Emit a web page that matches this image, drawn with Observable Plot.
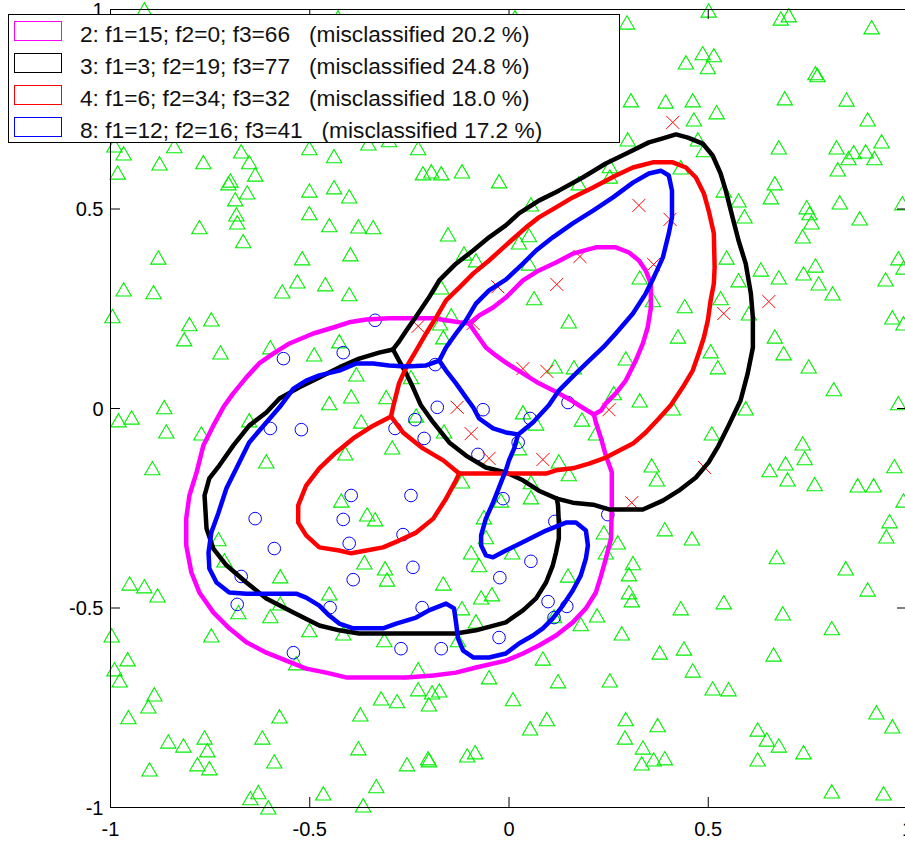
<!DOCTYPE html>
<html><head><meta charset="utf-8">
<script src="https://cdn.jsdelivr.net/npm/d3@7"></script>
<script src="https://cdn.jsdelivr.net/npm/@observablehq/plot@0.6"></script>
<style>
html,body{margin:0;padding:0;background:#fff;}
#wrap{position:relative;width:905px;height:845px;overflow:hidden;}
#legend{position:absolute;left:0;top:0;}
</style></head><body><div id="wrap"></div>
<script>
// ---- tick values ----
const xTicks = [-1, -0.5, 0, 0.5, 1];
const yTicks = [-1, -0.5, 0, 0.5, 1];

// ---- legend ----
const legendLabels = ["2: f1=15; f2=0; f3=66", "3: f1=3; f2=19; f3=77", "4: f1=6; f2=34; f3=32", "8: f1=12; f2=16; f3=41"];
const legendMiscl = ["20.2", "24.8", "18.0", "17.2"];
const legendColors = ["#ff00ff", "#000000", "#ff0000", "#0000ff"];

// ---- class 1: triangles ----
const triangles = [
[-0.990,0.659],[-0.967,0.639],[-0.840,0.657],[-0.877,0.614],[-0.767,0.617],[-0.672,0.644],[-0.652,0.617],[-0.637,0.586],[-0.704,0.564],[-0.699,0.571],[-0.657,0.541],[-0.687,0.524],[-0.684,0.486],[-0.682,0.466],[-0.667,0.419],[-0.982,0.591],[-0.777,0.454],[-0.880,0.378],[-0.501,0.652],[-0.439,0.632],[-0.353,0.664],[-0.301,0.672],[-0.228,0.652],[-0.501,0.546],[-0.439,0.554],[-0.401,0.531],[-0.501,0.489],[-0.451,0.459],[-0.378,0.456],[-0.341,0.454],[-0.216,0.589],[-0.195,0.594],[-0.170,0.589],[-0.118,0.594],[-0.025,0.569],[-0.153,0.436],[-0.519,0.376],[-0.398,0.386],[-0.113,0.388],[-0.083,0.371],[-0.531,0.318],[-0.461,0.311],[-0.569,0.293],[-0.401,0.286],[-0.967,0.298],[-0.892,0.291],[-0.995,0.231],[-0.802,0.211],[-0.747,0.223],[-0.815,0.173],[-0.724,0.140],[-0.599,0.153],[-0.489,0.135],[-0.426,0.168],[-0.170,0.303],[-0.145,0.233],[-0.173,0.213],[-0.165,0.178],[-0.383,0.085],[-0.396,0.030],[-0.451,0.013],[-0.308,0.028],[-0.246,0.078],[-0.865,0.003],
[0.501,0.997],[0.682,0.977],[0.702,0.985],[0.910,0.955],[0.296,0.967],[0.444,0.867],[0.486,0.890],[0.514,0.885],[0.499,0.855],[0.769,0.840],[0.774,0.835],[0.306,0.772],[0.393,0.769],[0.461,0.772],[0.521,0.742],[0.464,0.724],[0.692,0.777],[0.847,0.774],[0.900,0.724],[0.298,0.674],[0.474,0.674],[0.489,0.647],[0.677,0.654],[0.822,0.654],[0.865,0.642],[0.895,0.644],[0.935,0.669],[0.852,0.627],[0.917,0.627],[0.825,0.599],[0.253,0.607],[0.253,0.581],[0.431,0.604],[0.175,0.564],[0.667,0.564],[0.657,0.529],[0.539,0.546],[0.576,0.521],[0.591,0.481],[0.747,0.504],[0.754,0.489],[0.759,0.466],[0.830,0.516],[0.880,0.476],[0.737,0.431],[0.987,0.514],[0.055,0.511],[0.050,0.434],[0.025,0.416],[0.050,0.363],[0.546,0.378],[0.632,0.348],[0.576,0.321],[0.677,0.328],[0.739,0.338],[0.769,0.358],[0.777,0.313],[0.812,0.288],[0.977,0.376],[0.945,0.323],[0.990,0.353],[0.063,0.276],[0.150,0.218],[0.328,0.328],[0.361,0.271],[0.441,0.256],[0.531,0.276],[0.602,0.238],[0.424,0.180],[0.667,0.180],[0.689,0.138],[0.506,0.143],[0.524,0.103],[0.293,0.125],[0.115,0.105],[0.163,0.103],[0.752,0.105],[0.962,0.228],[0.990,0.213],[0.815,0.048],[0.263,0.038],[0.328,0.020],[0.411,0.000],[0.594,0.000],[0.977,0.013],
[-0.980,-0.030],[-0.947,-0.023],[-0.860,-0.058],[-0.772,-0.063],[-0.652,-0.030],[-0.371,-0.033],[-0.895,-0.150],[-0.609,-0.133],[-0.411,-0.113],[-0.293,-0.098],[-0.163,-0.058],[-0.118,-0.183],[-0.421,-0.231],[-0.356,-0.266],[-0.336,-0.278],[-0.063,-0.273],[-0.020,-0.231],[-0.729,-0.328],[-0.714,-0.381],[-0.058,-0.323],[-0.095,-0.361],[-0.075,-0.393],[-0.363,-0.386],[-0.311,-0.401],[-0.306,-0.429],[-0.574,-0.421],[-0.165,-0.439],[-0.952,-0.439],[-0.915,-0.446],[-0.882,-0.469],[-0.451,-0.464],[-0.574,-0.489],[-0.679,-0.511],[-0.599,-0.521],[-0.501,-0.556],[-0.416,-0.564],[-0.313,-0.581],[-0.118,-0.501],[-0.083,-0.534],[-0.070,-0.474],[-0.043,-0.466],[-0.128,-0.581],[-0.747,-0.569],[-0.997,-0.569],[-0.957,-0.629],[-0.990,-0.654],[-0.977,-0.682],[-0.534,-0.639],[-0.228,-0.654],[-0.050,-0.674],[-0.890,-0.717],[-0.905,-0.747],[-0.955,-0.774],[-0.576,-0.772],[-0.373,-0.767],[-0.321,-0.727],[-0.281,-0.734],[-0.228,-0.704],[-0.193,-0.712],[-0.175,-0.707],[-0.201,-0.742],[-0.855,-0.835],[-0.817,-0.845],[-0.764,-0.825],[-0.757,-0.857],[-0.619,-0.825],[-0.782,-0.892],[-0.752,-0.902],[-0.902,-0.905],[-0.589,-0.885],[-0.378,-0.852],[-0.256,-0.892],[-0.203,-0.877],[-0.201,-0.882],[-0.105,-0.870],[-0.085,-0.862],[-0.629,-0.962],[-0.649,-0.977],[-0.604,-1.000],[-0.466,-0.965],[-0.333,-0.947],[-0.366,-0.995],[-0.233,-0.018],
[0.035,-0.010],[0.068,-0.038],[0.183,-0.028],[0.025,-0.100],[0.218,-0.063],[0.509,-0.063],[0.737,-0.088],[0.125,-0.133],[0.150,-0.165],[0.055,-0.223],[0.055,-0.185],[0.358,-0.143],[0.371,-0.178],[0.654,-0.155],[0.694,-0.138],[0.742,-0.125],[0.699,-0.178],[0.767,-0.190],[0.875,-0.193],[0.915,-0.193],[0.967,-0.145],[0.990,-0.231],[0.238,-0.311],[0.273,-0.336],[0.243,-0.361],[0.391,-0.303],[0.459,-0.326],[0.311,-0.388],[0.301,-0.416],[0.301,-0.461],[0.308,-0.481],[0.148,-0.419],[0.672,-0.373],[0.845,-0.401],[0.900,-0.454],[0.955,-0.283],[0.947,-0.321],[0.008,-0.361],[0.113,-0.521],[0.180,-0.541],[0.221,-0.519],[0.431,-0.501],[0.539,-0.486],[0.687,-0.514],[0.810,-0.551],[0.283,-0.564],[0.378,-0.612],[0.439,-0.602],[0.664,-0.617],[0.085,-0.627],[0.123,-0.684],[0.253,-0.682],[0.461,-0.657],[0.511,-0.702],[0.551,-0.704],[0.010,-0.729],[0.095,-0.779],[0.053,-0.802],[0.293,-0.779],[0.373,-0.794],[0.291,-0.825],[0.336,-0.850],[0.363,-0.880],[0.391,-0.877],[0.333,-0.890],[0.624,-0.805],[0.647,-0.830],[0.677,-0.845],[0.624,-0.880],[0.739,-0.862],[0.922,-0.762],[0.962,-0.797],[0.810,-0.960],[0.940,-0.965],
[-0.915,1.000],[0.015,0.980],[-0.429,0.980]
];

// ---- class 2: circles ----
const circles = [
[-0.336,0.221],[-0.566,0.125],[-0.416,0.140],[-0.185,0.110],[-0.180,0.003],[-0.065,-0.003],[-0.599,-0.050],[-0.521,-0.053],[-0.286,-0.050],[-0.236,-0.028],[-0.213,-0.075],[-0.078,-0.115],[-0.396,-0.218],[-0.246,-0.218],[-0.416,-0.278],[-0.637,-0.276],[-0.266,-0.316],[-0.401,-0.338],[-0.589,-0.351],[-0.015,-0.226],[-0.241,-0.398],[-0.391,-0.429],[-0.672,-0.421],[-0.023,-0.424],[-0.682,-0.491],[-0.449,-0.499],[-0.218,-0.499],[-0.271,-0.602],[-0.170,-0.602],[-0.541,-0.612],[-0.025,-0.574],[0.148,0.015],[0.053,-0.025],[0.023,-0.085],[0.248,-0.266],[0.115,-0.283],[0.055,-0.383],[0.098,-0.484],[0.145,-0.496],[0.113,-0.524]
];

// ---- class 3: crosses ----
const crosses = [
[-0.228,0.206],[-0.090,0.213],[-0.130,0.003],[-0.028,0.305],[-0.095,-0.063],[-0.050,-0.125],[0.411,0.717],[0.326,0.509],[0.404,0.474],[0.178,0.381],[0.120,0.311],[0.363,0.361],[0.652,0.268],[0.539,0.238],[0.035,0.100],[0.095,0.093],[0.251,-0.003],[0.085,-0.128],[0.491,-0.148],[0.308,-0.236]
];

// ---- boundary: 2 hidden units (magenta) ----
const magentaOuter = [[-0.100,0.213],[-0.125,0.216],[-0.158,0.221],[-0.190,0.226],[-0.301,0.226],[-0.358,0.223],[-0.401,0.216],[-0.441,0.203],[-0.491,0.188],[-0.551,0.163],[-0.591,0.138],[-0.627,0.113],[-0.659,0.078],[-0.692,0.038],[-0.717,0.003],[-0.742,-0.043],[-0.767,-0.093],[-0.784,-0.160],[-0.802,-0.218],[-0.810,-0.276],[-0.810,-0.343],[-0.797,-0.411],[-0.777,-0.461],[-0.742,-0.511],[-0.702,-0.551],[-0.659,-0.586],[-0.609,-0.612],[-0.559,-0.632],[-0.509,-0.652],[-0.459,-0.662],[-0.409,-0.674],[-0.341,-0.674],[-0.258,-0.674],[-0.190,-0.669],[-0.133,-0.662],[-0.083,-0.649],[-0.008,-0.632],[0.035,-0.614],[0.075,-0.594],[0.118,-0.569],[0.160,-0.536],[0.193,-0.501],[0.218,-0.461],[0.231,-0.419],[0.243,-0.376],[0.256,-0.326],[0.258,-0.243],[0.258,-0.160],[0.243,-0.118],[0.231,-0.075],[0.218,-0.035],[0.213,-0.015]];
const magentaInner = [[-0.100,0.213],[-0.075,0.233],[-0.040,0.253],[-0.008,0.278],[0.035,0.321],[0.075,0.346],[0.118,0.366],[0.160,0.388],[0.218,0.404],[0.268,0.404],[0.301,0.391],[0.326,0.371],[0.343,0.346],[0.356,0.313],[0.356,0.253],[0.348,0.203],[0.336,0.163],[0.318,0.120],[0.293,0.070],[0.268,0.038],[0.243,0.013],[0.231,-0.005],[0.213,-0.015]];
const magentaChord = [[-0.100,0.213],[-0.083,0.188],[-0.058,0.153],[-0.033,0.133],[-0.008,0.115],[0.035,0.088],[0.075,0.063],[0.125,0.038],[0.160,0.018],[0.188,0.000],[0.213,-0.015]];

// ---- boundary: 3 hidden units (black) ----
const blackOuter = [[-0.291,0.148],[-0.278,0.165],[-0.258,0.195],[-0.228,0.238],[-0.201,0.278],[-0.175,0.321],[-0.133,0.363],[-0.090,0.396],[-0.050,0.429],[-0.008,0.459],[0.025,0.489],[0.075,0.521],[0.125,0.546],[0.185,0.579],[0.243,0.614],[0.301,0.642],[0.351,0.667],[0.386,0.677],[0.419,0.687],[0.449,0.679],[0.486,0.664],[0.511,0.634],[0.531,0.589],[0.544,0.546],[0.561,0.479],[0.576,0.421],[0.594,0.363],[0.607,0.288],[0.612,0.228],[0.612,0.153],[0.599,0.088],[0.581,0.020],[0.551,-0.043],[0.526,-0.093],[0.501,-0.135],[0.469,-0.173],[0.426,-0.206],[0.386,-0.231],[0.336,-0.253],[0.251,-0.253],[0.211,-0.241],[0.160,-0.236],[0.120,-0.226]];
const blackChord = [[-0.291,0.148],[-0.276,0.120],[-0.258,0.088],[-0.241,0.053],[-0.221,0.008],[-0.190,-0.035],[-0.150,-0.085],[-0.108,-0.118],[-0.058,-0.148],[-0.008,-0.160],[0.035,-0.180],[0.075,-0.206],[0.120,-0.226]];
const blackLower = [[-0.291,0.148],[-0.326,0.140],[-0.376,0.125],[-0.426,0.103],[-0.476,0.078],[-0.526,0.053],[-0.576,0.025],[-0.609,-0.010],[-0.652,-0.043],[-0.692,-0.093],[-0.727,-0.143],[-0.752,-0.175],[-0.764,-0.218],[-0.759,-0.301],[-0.742,-0.351],[-0.709,-0.393],[-0.659,-0.436],[-0.609,-0.476],[-0.541,-0.511],[-0.476,-0.544],[-0.426,-0.556],[-0.376,-0.564],[-0.258,-0.564],[-0.133,-0.564],[-0.083,-0.556],[-0.008,-0.536],[0.035,-0.506],[0.068,-0.476],[0.093,-0.436],[0.110,-0.393],[0.118,-0.361],[0.125,-0.326],[0.125,-0.286],[0.123,-0.243],[0.120,-0.226]];

// ---- boundary: 4 hidden units (red) ----
const redOuter = [[-0.296,-0.020],[-0.291,0.003],[-0.276,0.063],[-0.258,0.103],[-0.233,0.145],[-0.208,0.188],[-0.183,0.228],[-0.158,0.271],[-0.125,0.303],[-0.090,0.338],[-0.050,0.371],[-0.008,0.409],[0.043,0.454],[0.075,0.479],[0.118,0.504],[0.160,0.529],[0.211,0.554],[0.268,0.584],[0.311,0.604],[0.361,0.617],[0.411,0.617],[0.444,0.604],[0.469,0.579],[0.489,0.539],[0.501,0.496],[0.514,0.439],[0.516,0.353],[0.514,0.313],[0.506,0.271],[0.499,0.221],[0.489,0.178],[0.476,0.138],[0.461,0.095],[0.436,0.053],[0.406,0.008],[0.376,-0.025],[0.343,-0.060],[0.311,-0.088],[0.243,-0.123],[0.201,-0.138],[0.160,-0.150],[0.118,-0.155],[0.093,-0.163],[-0.008,-0.163],[-0.125,-0.163]];
const redChord = [[-0.296,-0.020],[-0.266,-0.060],[-0.216,-0.100],[-0.165,-0.130],[-0.125,-0.163]];
const redLower = [[-0.296,-0.020],[-0.341,-0.043],[-0.391,-0.075],[-0.434,-0.110],[-0.476,-0.150],[-0.509,-0.193],[-0.529,-0.243],[-0.529,-0.286],[-0.509,-0.318],[-0.476,-0.348],[-0.426,-0.356],[-0.396,-0.363],[-0.358,-0.356],[-0.316,-0.348],[-0.276,-0.331],[-0.233,-0.311],[-0.190,-0.276],[-0.158,-0.226],[-0.133,-0.180],[-0.125,-0.163]];

// ---- boundary: 8 hidden units (blue) ----
const blueOuter = [[-0.175,0.120],[-0.158,0.153],[-0.133,0.188],[-0.108,0.221],[-0.083,0.263],[-0.050,0.296],[-0.008,0.323],[0.035,0.363],[0.068,0.396],[0.110,0.429],[0.160,0.464],[0.211,0.496],[0.261,0.529],[0.311,0.566],[0.351,0.589],[0.381,0.596],[0.401,0.584],[0.409,0.546],[0.409,0.479],[0.401,0.439],[0.386,0.378],[0.363,0.328],[0.343,0.288],[0.311,0.238],[0.268,0.188],[0.236,0.153],[0.201,0.120],[0.168,0.088],[0.125,0.045],[0.100,0.008],[0.060,-0.035],[0.023,-0.065]];
const blueChord = [[-0.175,0.120],[-0.158,0.095],[-0.133,0.063],[-0.108,0.028],[-0.090,0.003],[-0.075,-0.025],[-0.040,-0.050],[-0.008,-0.060],[0.023,-0.065]];
const blueLower = [[-0.175,0.120],[-0.208,0.108],[-0.258,0.105],[-0.301,0.108],[-0.341,0.113],[-0.383,0.113],[-0.426,0.095],[-0.476,0.083],[-0.509,0.070],[-0.541,0.050],[-0.576,0.003],[-0.609,-0.035],[-0.652,-0.085],[-0.684,-0.150],[-0.709,-0.200],[-0.729,-0.261],[-0.747,-0.311],[-0.754,-0.361],[-0.752,-0.401],[-0.734,-0.436],[-0.702,-0.461],[-0.659,-0.464],[-0.534,-0.464],[-0.509,-0.474],[-0.476,-0.494],[-0.451,-0.519],[-0.426,-0.539],[-0.391,-0.551],[-0.316,-0.551],[-0.283,-0.539],[-0.233,-0.524],[-0.201,-0.506],[-0.158,-0.489],[-0.138,-0.501],[-0.133,-0.536],[-0.128,-0.576],[-0.115,-0.607],[-0.090,-0.624],[-0.050,-0.624],[-0.008,-0.614],[0.025,-0.589],[0.060,-0.569],[0.085,-0.551],[0.110,-0.526],[0.135,-0.494],[0.160,-0.456],[0.180,-0.419],[0.193,-0.376],[0.198,-0.343],[0.193,-0.306],[0.168,-0.286],[0.143,-0.286],[0.093,-0.306],[0.043,-0.331],[-0.008,-0.356],[-0.040,-0.373],[-0.058,-0.368],[-0.070,-0.343],[-0.070,-0.318],[-0.058,-0.276],[-0.040,-0.236],[-0.020,-0.185],[-0.008,-0.155],[0.000,-0.130],[0.013,-0.100],[0.023,-0.065]];

const curves = [
  {color: legendColors[0], parts: [magentaOuter, magentaInner, magentaChord]},
  {color: legendColors[1], parts: [blackOuter, blackChord, blackLower]},
  {color: legendColors[2], parts: [redOuter, redChord, redLower]},
  {color: legendColors[3], parts: [blueOuter, blueChord, blueLower]}
];

const FONT = "'Liberation Sans', Arial, Helvetica, sans-serif";
const px = d => d[0], py = d => d[1];

const chart = Plot.plot({
  width: 905, height: 845,
  marginLeft: 110, marginRight: -2, marginTop: 9, marginBottom: 38,
  x: {domain: [-1, 1]},
  y: {domain: [-1, 1]},
  style: {fontFamily: FONT, background: "white", color: "black"},
  marks: [
    Plot.dot(triangles, {x: px, y: py, symbol: "triangle", r: 5.7, stroke: "#00ee00", fill: "none", strokeWidth: 1.1, dy: 2}),
    Plot.dot(circles, {x: px, y: py, symbol: "circle", r: 6.3, stroke: "#0000ff", fill: "none", strokeWidth: 1}),
    Plot.dot(crosses, {x: px, y: py, symbol: "times", r: 6, stroke: "#ff0000", fill: "none", strokeWidth: 1}),
    ...curves.flatMap(c => c.parts.map(p => Plot.line(p, {x: px, y: py, stroke: c.color, strokeWidth: 4.5, strokeLinejoin: "round", strokeLinecap: "round"}))),
    Plot.frame({stroke: "black", strokeWidth: 1}),
    Plot.ruleX(xTicks, {x: d => d, y1: () => -1, y2: () => -1, insetTop: -10, stroke: "black", strokeWidth: 1}),
    Plot.ruleX(xTicks, {x: d => d, y1: () => 1, y2: () => 1, insetBottom: -10, stroke: "black", strokeWidth: 1}),
    Plot.ruleY(yTicks, {y: d => d, x1: () => -1, x2: () => -1, insetRight: -10, stroke: "black", strokeWidth: 1}),
    Plot.ruleY(yTicks, {y: d => d, x1: () => 1, x2: () => 1, insetLeft: -10, stroke: "black", strokeWidth: 1}),
    Plot.axisX({ticks: xTicks, tickSize: 0, tickPadding: 14, tickFormat: d => String(d), fontSize: 20, fill: "black"}),
    Plot.axisY({ticks: yTicks, tickSize: 0, tickPadding: 7, tickFormat: d => String(d), fontSize: 20, fill: "black", dy: 1})
  ]
});
const wrap = document.getElementById("wrap");
wrap.appendChild(chart);

// legend box drawn over the axes, as in the original
const leg = d3.create("svg").attr("id", "legend").attr("width", 905).attr("height", 150)
  .style("font-family", FONT);
leg.append("rect").attr("x", 8.5).attr("y", 14.5).attr("width", 611).attr("height", 128)
  .attr("fill", "white").attr("stroke", "black").attr("stroke-width", 1);
legendLabels.forEach((lab, i) => {
  leg.append("rect").attr("x", 14.5).attr("y", 21.5 + 32 * i).attr("width", 47).attr("height", 19)
    .attr("fill", "none").attr("stroke", legendColors[i]).attr("stroke-width", 1);
  leg.append("text").attr("x", 80).attr("y", 42 + 32 * i).attr("font-size", 22.7).attr("fill", "#111")
    .style("white-space", "pre")
    .text(`${lab}   (misclassified ${legendMiscl[i]} %)`);
});
wrap.appendChild(leg.node());
</script>
</body></html>
